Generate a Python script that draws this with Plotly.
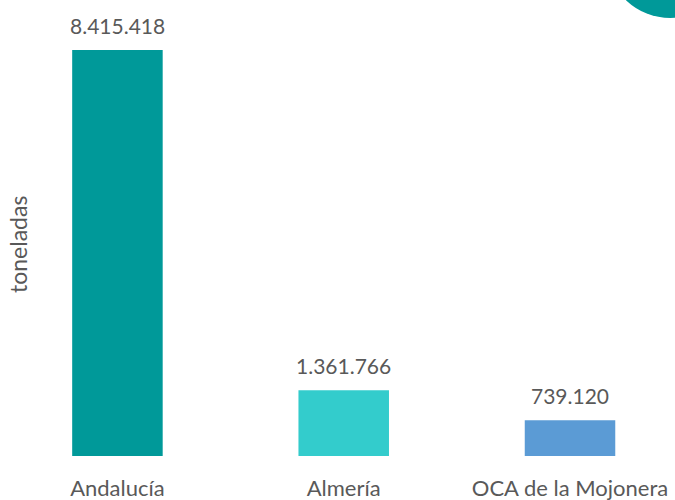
import plotly.graph_objects as go

# production in tonnes
categories = ["Andalucía", "Almería", "OCA de la Mojonera"]
toneladas = [8415418, 1361766, 739120]
colores = ["#009999", "#33CCCC", "#5B9BD5"]
etiquetas = ["8.415.418", "1.361.766", "739.120"]

fig = go.Figure()
fig.add_trace(go.Bar(
    x=categories,
    y=toneladas,
    marker=dict(color=colores, line=dict(width=0)),
    width=0.40,
    hoverinfo="skip",
))

# value labels above bars
for c, v, t in zip(categories, toneladas, etiquetas):
    fig.add_annotation(x=c, y=v, text=t, showarrow=False,
                       yanchor="bottom", yshift=10,
                       font=dict(family="Lato", size=21, color="#595959"))

# axis title, placed a bit below the middle like the original
fig.add_annotation(text="toneladas", xref="paper", yref="paper",
                   x=0, y=1 - 245 / 456, xshift=-32, textangle=-90,
                   showarrow=False, xanchor="center", yanchor="middle",
                   font=dict(family="Lato", size=23, color="#595959"))

# decorative circle in top-right corner
fig.add_shape(type="circle", xref="paper", yref="paper",
              x0=0.894, x1=1.0912, y0=1 - 18 / 456, y1=1 + 98 / 456,
              fillcolor="#009999", line=dict(width=0), layer="above")

fig.update_layout(
    width=675, height=500,
    margin=dict(l=50, r=0, t=0, b=44),
    plot_bgcolor="white", paper_bgcolor="white",
    showlegend=False,
    font=dict(family="Lato", color="#595959"),
    xaxis=dict(range=[-0.298, 2.464], showline=False, showgrid=False,
               automargin=False,
               ticks="outside", ticklen=13, tickcolor="rgba(0,0,0,0)",
               tickfont=dict(family="Lato", size=22, color="#595959")),
    yaxis=dict(range=[0, 9452700], showticklabels=False, showgrid=False,
               zeroline=False, showline=False, automargin=False),
)

fig.write_html("out.html", config={"displayModeBar": False},
               post_script="document.body.style.margin='0';")
